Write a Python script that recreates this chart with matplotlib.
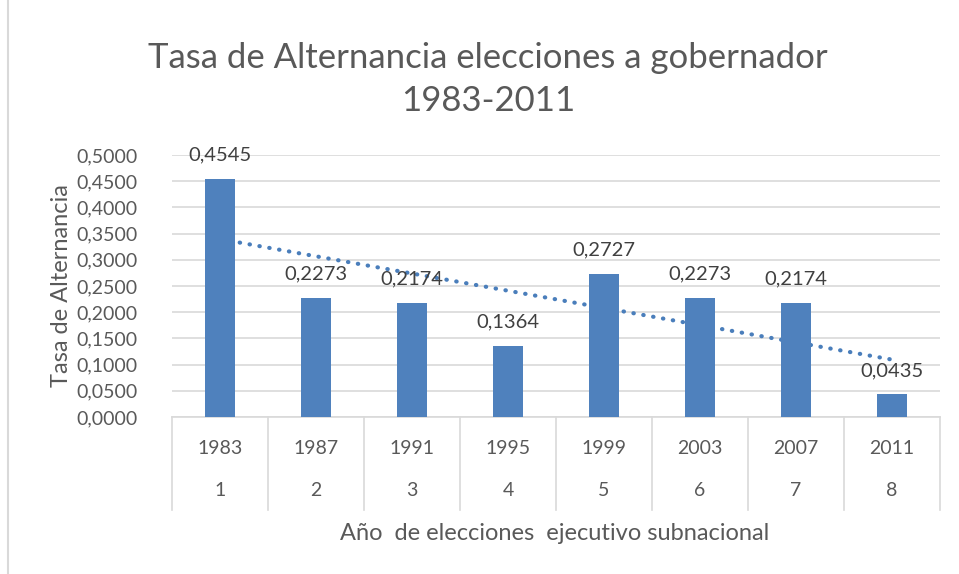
import numpy as np
import matplotlib.pyplot as plt
from matplotlib.patches import Rectangle

plt.rcParams['font.family'] = ['Lato', 'DejaVu Sans']

# data
years = ['1983', '1987', '1991', '1995', '1999', '2003', '2007', '2011']
order = ['1', '2', '3', '4', '5', '6', '7', '8']
tasa = [0.4545, 0.2273, 0.2174, 0.1364, 0.2727, 0.2273, 0.2174, 0.0435]
yticks = [0.0, 0.05, 0.10, 0.15, 0.20, 0.25, 0.30, 0.35, 0.40, 0.45, 0.50]

W, H = 959, 574
bar_color = '#4f81bd'
grid_color = '#d9d9d9'
txt_color = '#595959'

def comma(v):
    return f"{v:.4f}".replace('.', ',')

fig = plt.figure(figsize=(W / 100, H / 100), dpi=100)
fig.patches.append(Rectangle((8 / W, -0.1), 2, 2, transform=fig.transFigure,
                             fill=False, edgecolor='#d9d9d9', lw=1.5))

ax = fig.add_axes([172 / W, 157 / H, 768 / W, 262 / H])
x = np.arange(len(tasa))
ax.bar(x, tasa, width=0.31, color=bar_color, zorder=3)

# linear trendline (dotted) behind bars
m, b = np.polyfit(x + 1, tasa, 1)
ax.plot(x, m * (x + 1) + b, linestyle=(0, (0.1, 2.3)), dash_capstyle='round',
        color='#4a7ebb', lw=3, zorder=2)

for xi, v in zip(x, tasa):
    ax.annotate(comma(v), (xi, v), xytext=(0, 11), textcoords='offset points',
                ha='center', va='bottom', fontsize=14.5, color='#404040')

ax.set_xlim(-0.5, len(tasa) - 0.5)
ax.set_ylim(0, 0.5)
ax.set_yticks(yticks)
ax.set_yticklabels([comma(t) for t in yticks], fontsize=14, color=txt_color)
ax.tick_params(axis='y', length=0, pad=25)
ax.set_xticks([])
ax.grid(axis='y', color=grid_color, lw=1.2, zorder=0)
for s in ['top', 'right', 'left']:
    ax.spines[s].set_visible(False)
ax.spines['bottom'].set_color(grid_color)
ax.spines['bottom'].set_linewidth(1.2)

# two-level category axis
tr = ax.get_xaxis_transform()
depth = -(510 - 417) / 262
for xs in np.arange(-0.5, len(tasa), 1.0):
    ax.plot([xs, xs], [0, depth], transform=tr, color=grid_color, lw=1.2,
            clip_on=False)
for xi, yr, n in zip(x, years, order):
    ax.text(xi, -(449 - 417) / 262, yr, transform=tr, ha='center', va='center',
            fontsize=14, color=txt_color)
    ax.text(xi, -(490 - 417) / 262, n, transform=tr, ha='center', va='center',
            fontsize=14, color=txt_color)

fig.text(555 / W, 1 - 533 / H, 'Año  de elecciones  ejecutivo subnacional',
         ha='center', va='center', fontsize=17, color=txt_color)
fig.text(62 / W, 1 - 286 / H, 'Tasa de Alternancia', rotation=90,
         ha='center', va='center', fontsize=17, color=txt_color)
fig.text(488 / W, 1 - 58 / H, 'Tasa de Alternancia elecciones a gobernador',
         ha='center', va='center', fontsize=25, color=txt_color)
fig.text(488 / W, 1 - 101 / H, '1983-2011',
         ha='center', va='center', fontsize=25, color=txt_color)

fig.savefig('out.png', dpi=100)
